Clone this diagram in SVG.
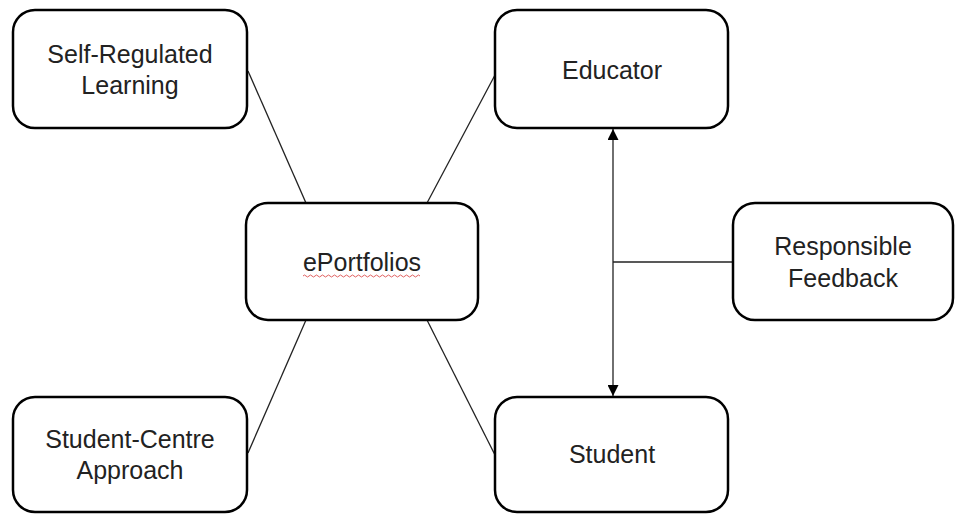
<svg xmlns="http://www.w3.org/2000/svg" width="956" height="514" viewBox="0 0 956 514">
<style>
.box{fill:#fff;stroke:#000;stroke-width:2.5}
.t{font-family:"Liberation Sans",Arial,sans-serif;font-size:25px;fill:#222;text-anchor:middle}
.c{stroke:#222;stroke-width:1.3;fill:none}
</style>
<defs>
<marker id="ah" viewBox="0 0 10 10" refX="10" refY="5" markerWidth="11" markerHeight="11" markerUnits="userSpaceOnUse" orient="auto-start-reverse">
<path d="M0,0 L10,5 L0,10 Z" fill="#000"/>
</marker>
</defs>
<rect width="956" height="514" fill="#fff"/>
<g id="connectors">
<line class="c" x1="248" y1="71" x2="306" y2="203"/>
<line class="c" x1="427" y1="203" x2="495" y2="75"/>
<line class="c" x1="306" y1="320" x2="248" y2="453"/>
<line class="c" x1="427" y1="320" x2="495" y2="455"/>
<line class="c" x1="613" y1="129" x2="613" y2="396" marker-start="url(#ah)" marker-end="url(#ah)"/>
<line class="c" x1="613" y1="262" x2="733" y2="262"/>
</g>
<g id="self-regulated">
<rect class="box" x="13" y="10" width="234" height="118" rx="22"/>
<text class="t" x="130" y="63">Self-Regulated</text>
<text class="t" x="130" y="94">Learning</text>
</g>
<g id="educator">
<rect class="box" x="495" y="10" width="233" height="118" rx="22"/>
<text class="t" x="612" y="79">Educator</text>
</g>
<g id="eportfolios">
<rect class="box" x="246" y="203" width="232" height="117" rx="22"/>
<text class="t" x="362" y="271">ePortfolios</text>
<path d="M303,276 q1.5,-2 3,0 t3,0 t3,0 t3,0 t3,0 t3,0 t3,0 t3,0 t3,0 t3,0 t3,0 t3,0 t3,0 t3,0 t3,0 t3,0 t3,0 t3,0 t3,0 t3,0 t3,0 t3,0 t3,0 t3,0 t3,0 t3,0 t3,0 t3,0 t3,0 t3,0 t3,0 t3,0 t3,0 t3,0 t3,0 t3,0 t3,0 t3,0 t3,0" fill="none" stroke="#e06060" stroke-width="1"/>
</g>
<g id="responsible-feedback">
<rect class="box" x="733" y="203" width="220" height="117" rx="22"/>
<text class="t" x="843" y="255">Responsible</text>
<text class="t" x="843" y="287">Feedback</text>
</g>
<g id="student-centre">
<rect class="box" x="13" y="397" width="234" height="115" rx="22"/>
<text class="t" x="130" y="448">Student-Centre</text>
<text class="t" x="130" y="479">Approach</text>
</g>
<g id="student">
<rect class="box" x="495" y="397" width="233" height="115" rx="22"/>
<text class="t" x="612" y="463">Student</text>
</g>
</svg>
